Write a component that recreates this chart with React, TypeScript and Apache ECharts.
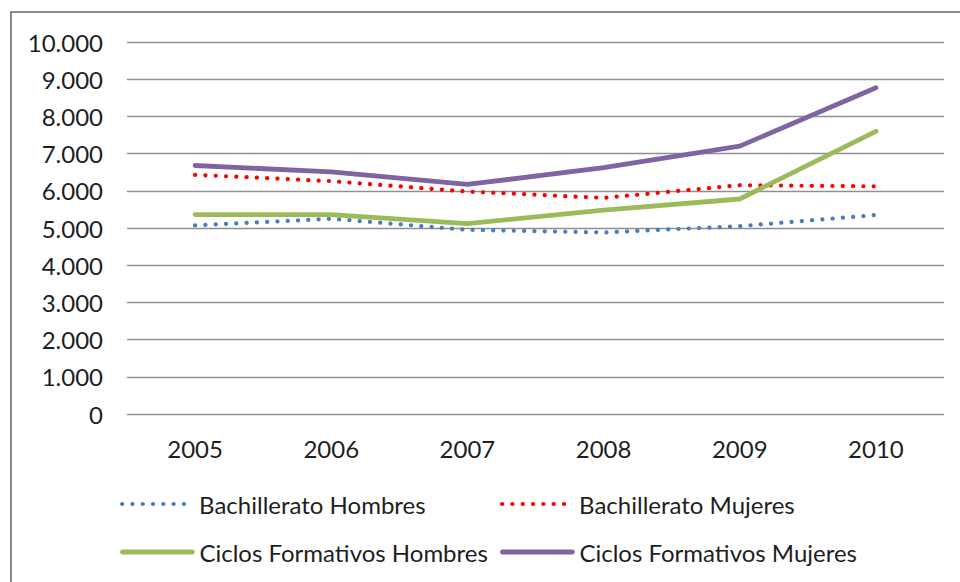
import React, { useEffect, useRef } from "react";
import * as echarts from "echarts";

const years = ["2005", "2006", "2007", "2008", "2009", "2010"];
const bachHombres = [5070, 5250, 4950, 4880, 5050, 5350];
const bachMujeres = [6430, 6260, 5980, 5810, 6150, 6120];
const ciclosHombres = [5360, 5360, 5120, 5480, 5780, 7600];
const ciclosMujeres = [6680, 6510, 6170, 6620, 7200, 8770];
const seriesNames = [
  "Bachillerato Hombres",
  "Bachillerato Mujeres",
  "Ciclos Formativos Hombres",
  "Ciclos Formativos Mujeres",
];

const FONT = "Lato";
const FS = 24;

export default function App() {
  const ref = useRef<HTMLDivElement>(null);
  useEffect(() => {
    if (!ref.current) return;
    const chart = echarts.init(ref.current, undefined, { renderer: "svg" });
    const dotted = (color: string) => ({
      color,
      width: 4.2,
      type: [0.1, 10.2],
      cap: "round",
    });
    const solid = (color: string) => ({ color, width: 4.8, type: "solid", cap: "round" });
    const legendBase = {
      itemWidth: 70,
      itemHeight: 14,
      itemGap: 0,
      itemStyle: { opacity: 0 },
      lineStyle: { width: "inherit", type: "inherit", cap: "inherit" },
      textStyle: { fontFamily: FONT, fontSize: FS, color: "#1e1e1e", padding: [0, 0, 0, 2] },
      padding: 0,
    };
    chart.setOption({
      animation: false,
      backgroundColor: "#ffffff",
      textStyle: { fontFamily: FONT },
      graphic: [
        {
          type: "rect",
          shape: { x: 11, y: 12, width: 1000, height: 700 },
          style: { fill: "none", stroke: "#8a8a8a", lineWidth: 2 },
          silent: true,
        },
      ],
      grid: { left: 127, right: 16, top: 42, bottom: 168, containLabel: false },
      xAxis: {
        type: "category",
        data: years,
        boundaryGap: true,
        axisLine: { show: false },
        axisTick: { show: false },
        axisLabel: { fontFamily: FONT, fontSize: FS, color: "#1e1e1e", margin: 22 },
      },
      yAxis: {
        type: "value",
        min: 0,
        max: 10000,
        interval: 1000,
        axisLine: { show: false },
        axisTick: { show: false },
        splitLine: { lineStyle: { color: "#8f8f8f", width: 1.3 } },
        axisLabel: {
          fontFamily: FONT,
          fontSize: FS,
          color: "#1e1e1e",
          margin: 24,
          formatter: (v: number) => (v === 0 ? "0" : v.toLocaleString("de-DE")),
        },
      },
      legend: [
        { ...legendBase, left: 120, top: 492, data: [seriesNames[0]] },
        { ...legendBase, left: 500, top: 492, data: [seriesNames[1]] },
        { ...legendBase, left: 120, top: 540, data: [seriesNames[2]] },
        { ...legendBase, left: 500, top: 540, data: [seriesNames[3]] },
      ],
      series: [
        {
          name: seriesNames[0],
          type: "line",
          data: bachHombres,
          symbol: "none",
          lineStyle: dotted("#4a7ebb"),
          itemStyle: { color: "#4a7ebb" },
          z: 3,
        },
        {
          name: seriesNames[1],
          type: "line",
          data: bachMujeres,
          symbol: "none",
          lineStyle: dotted("#ff0000"),
          itemStyle: { color: "#ff0000" },
          z: 3,
        },
        {
          name: seriesNames[2],
          type: "line",
          data: ciclosHombres,
          symbol: "none",
          lineStyle: solid("#9bbb59"),
          itemStyle: { color: "#9bbb59" },
          z: 4,
        },
        {
          name: seriesNames[3],
          type: "line",
          data: ciclosMujeres,
          symbol: "none",
          lineStyle: solid("#8064a2"),
          itemStyle: { color: "#8064a2" },
          z: 5,
        },
      ],
    });
    return () => chart.dispose();
  }, []);
  return (
    <div
      ref={ref}
      style={{ position: "fixed", left: 0, top: 0, width: 960, height: 582 }}
    />
  );
}
